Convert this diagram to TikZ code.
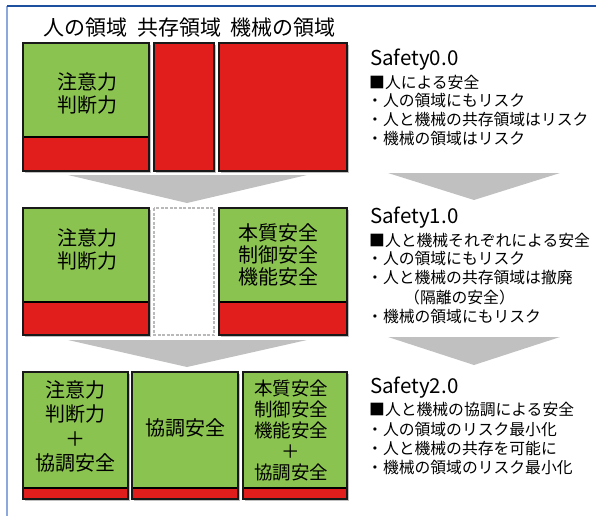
\documentclass[tikz,border=0pt]{standalone}
\usepackage{fontspec}
\setmainfont{Noto Sans CJK JP}
\definecolor{boxgreen}{RGB}{139,195,80}
\definecolor{boxred}{RGB}{226,30,28}
\definecolor{arrowgray}{RGB}{192,192,192}
\definecolor{shadowgray}{RGB}{150,150,150}
\definecolor{framedark}{RGB}{30,80,160}
\definecolor{framelight}{RGB}{140,168,220}
\newcommand{\zonebox}[5]{%
  \fill[shadowgray,opacity=0.6] (#1+2,#2+2) rectangle (#3+2,#5+2);
  \fill[boxgreen] (#1,#2) rectangle (#3,#4);
  \fill[boxred] (#1,#4) rectangle (#3,#5);
  \draw[line width=1.3pt] (#1,#4) -- (#3,#4);
  \draw[zoneborder] (#1,#2) rectangle (#3,#5);}
\begin{document}
\begin{tikzpicture}[x=1pt,y=-1pt,
  zoneborder/.style={line width=2.2pt,draw=black!90},
  headtext/.style={font=\fontsize{21}{24}\selectfont,inner sep=0pt},
  boxtext/.style={align=center,font=\fontsize{20}{23}\selectfont,inner sep=0pt},
  boxtextsm/.style={align=center,font=\fontsize{18.5}{21}\selectfont,inner sep=0pt},
  rtitle/.style={anchor=west,font=\fontsize{20.5}{22}\selectfont,inner sep=0pt},
  rline/.style={anchor=west,font=\fontsize{15.8}{19}\selectfont,inner sep=0pt},
  flowarrow/.style={fill=arrowgray}]
\useasboundingbox (0,0) rectangle (596,516);
% frame
\draw[framelight,line width=1.5pt] (7,6) -- (7,516);
\draw[framedark,line width=1.5pt] (7,6) -- (596,6);
% headers
\node[headtext] (h1) at (85,28) {人の領域};
\node[headtext] (h2) at (179,28) {共存領域};
\node[headtext] (h3) at (283,28) {機械の領域};
% row 1
\zonebox{23}{43}{149}{137}{171}
\zonebox{154}{43}{214}{43}{171}
\zonebox{219}{43}{347}{43}{171}
\node[boxtext] (r1a) at (87,93.5) {注意力\\判断力};
% arrows row1 -> row2
\fill[flowarrow] (68,175) -- (307,175) -- (187,203) -- cycle;
\fill[flowarrow] (388,173) -- (560,173) -- (474,200) -- cycle;
% row 2
\zonebox{23}{208}{149}{302}{335}
\fill[white] (154,208) rectangle (214,335);
\draw[gray!55,line width=1.3pt,dash pattern=on 3pt off 1.5pt] (154,208) rectangle (214,335);
\zonebox{219}{208}{347}{302}{335}
\node[boxtext] (r2a) at (87,249) {注意力\\判断力};
\node[boxtext,font=\fontsize{20}{22}\selectfont] (r2c) at (278,255) {本質安全\\制御安全\\機能安全};
% arrows row2 -> row3
\fill[flowarrow] (68,340) -- (307,340) -- (187,367) -- cycle;
\fill[flowarrow] (388,337) -- (560,337) -- (474,365) -- cycle;
% row 3
\zonebox{23}{372}{128}{488}{499}
\zonebox{132}{372}{238}{488}{499}
\zonebox{243}{372}{347}{488}{499}
\node[boxtext,font=\fontsize{20}{24.3}\selectfont] (r3a) at (75,426.5) {注意力\\判断力\\＋\\協調安全};
\node[boxtext] (r3b) at (185,428) {協調安全};
\node[boxtextsm] (r3c) at (291,430.5) {本質安全\\制御安全\\機能安全\\＋\\協調安全};
% right text: Safety0.0
\node[rtitle] (s0) at (370,60) {Safety0.0};
\node[rline] (s0a) at (369,82) {■人による安全};
\node[rline] (s0b) at (367,101) {・人の領域にもリスク};
\node[rline] (s0c) at (367,120) {・人と機械の共存領域はリスク};
\node[rline] (s0d) at (367,138.5) {・機械の領域はリスク};
% Safety1.0
\node[rtitle] (s1) at (370,218) {Safety1.0};
\node[rline] (s1a) at (369,240) {■人と機械それぞれによる安全};
\node[rline] (s1b) at (367,258.5) {・人の領域にもリスク};
\node[rline] (s1c) at (367,278) {・人と機械の共存領域は撤廃};
\node[rline] (s1d) at (404,297) {（隔離の安全）};
\node[rline] (s1e) at (367,317) {・機械の領域にもリスク};
% Safety2.0
\node[rtitle] (s2) at (370,388) {Safety2.0};
\node[rline] (s2a) at (369,410) {■人と機械の協調による安全};
\node[rline] (s2b) at (367,430) {・人の領域のリスク最小化};
\node[rline] (s2c) at (367,448.5) {・人と機械の共存を可能に};
\node[rline] (s2d) at (367,468) {・機械の領域のリスク最小化};
\end{tikzpicture}
\end{document}
